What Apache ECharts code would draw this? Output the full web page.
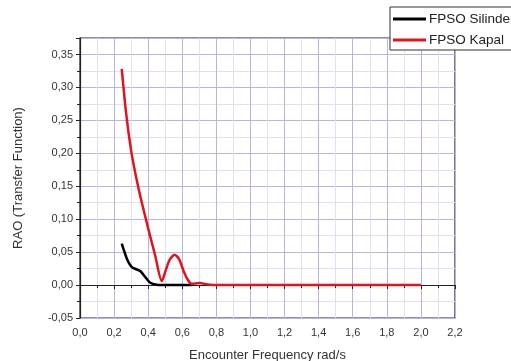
<!DOCTYPE html>
<html>
<head>
<meta charset="utf-8">
<script src="https://cdn.jsdelivr.net/npm/echarts@6/dist/echarts.min.js"></script>
<style>
  html, body { margin: 0; padding: 0; background: #fff; }
  #chart { width: 511px; height: 361px; }
</style>
</head>
<body>
<div id="chart"></div>
<script>
// frequency (rad/s), RAO value
const silinder = [
  [0.245, 0.063], [0.26, 0.051], [0.275, 0.040], [0.29, 0.032], [0.305, 0.027],
  [0.33, 0.024], [0.355, 0.021], [0.38, 0.013], [0.41, 0.004], [0.45, 0.0005],
  [0.5, 0], [0.55, 0], [0.6, 0], [0.655, 0]
];
const kapal = [
  [0.245, 0.328], [0.27, 0.262], [0.30, 0.204], [0.33, 0.163], [0.36, 0.128],
  [0.40, 0.086], [0.44, 0.046], [0.48, 0.006], [0.50, 0.02], [0.525, 0.038],
  [0.555, 0.046], [0.58, 0.04], [0.61, 0.02], [0.635, 0.007], [0.655, 0.002],
  [0.70, 0.003], [0.75, 0.001], [0.8, 0], [1.0, 0], [1.2, 0], [1.4, 0],
  [1.6, 0], [1.8, 0], [2.0, 0]
];
const seriesNames = ['FPSO Silinder', 'FPSO Kapal'];

const comma = (v, d) => v.toFixed(d).replace('.', ',');

const chart = echarts.init(document.getElementById('chart'));
chart.setOption({
  animation: false,
  textStyle: { fontFamily: 'Liberation Sans, Arial, sans-serif' },
  legend: {
    data: seriesNames,
    orient: 'vertical',
    left: 390,
    top: 7,
    icon: 'rect',
    itemWidth: 33,
    itemHeight: 3,
    itemGap: 7,
    padding: [5, 40, 3, 3],
    backgroundColor: '#fff',
    borderColor: '#333',
    borderWidth: 1,
    borderRadius: 0,
    textStyle: { fontSize: 13.5, color: '#222', padding: [0, 0, 0, -2] }
  },
  grid: {
    left: 80, right: 56, top: 38, bottom: 43,
    outerBoundsMode: 'none',
    containLabel: false,
    show: true, borderColor: '#222', borderWidth: 1.2
  },
  xAxis: {
    type: 'value',
    min: 0, max: 2.2, interval: 0.2,
    name: 'Encounter Frequency rad/s',
    nameLocation: 'middle',
    nameGap: 31,
    nameTextStyle: { fontSize: 13, color: '#333' },
    axisLine: { lineStyle: { color: '#222', width: 1.2 } },
    axisTick: { show: true, length: 4, lineStyle: { color: '#222' } },
    minorTick: { show: true, splitNumber: 2, length: 3, lineStyle: { color: '#222' } },
    axisLabel: { fontSize: 11, color: '#333', margin: 9, formatter: v => comma(v, 1) },
    splitLine: { show: true, lineStyle: { color: '#b4b4e6', width: 1 } },
    minorSplitLine: { show: true, lineStyle: { color: '#e0e0f4', width: 1 } }
  },
  yAxis: {
    type: 'value',
    min: -0.05, max: 0.375, interval: 0.05,
    name: 'RAO (Transfer Function)',
    nameLocation: 'middle',
    nameGap: 55,
    nameTextStyle: { fontSize: 13, color: '#333' },
    axisLine: { show: true, lineStyle: { color: '#222', width: 1.2 } },
    axisTick: { show: true, length: 4, lineStyle: { color: '#222' } },
    minorTick: { show: true, splitNumber: 2, length: 3, lineStyle: { color: '#222' } },
    axisLabel: { fontSize: 11, color: '#333', margin: 7, showMaxLabel: false, formatter: v => comma(v, 2) },
    splitLine: { show: true, lineStyle: { color: '#b4b4e6', width: 1 } },
    minorSplitLine: { show: true, lineStyle: { color: '#e0e0f4', width: 1 } }
  },
  series: [
    {
      name: seriesNames[0],
      type: 'line',
      smooth: 0.25,
      showSymbol: false,
      color: '#000',
      lineStyle: { width: 2.5, color: '#000' },
      data: silinder
    },
    {
      name: seriesNames[1],
      type: 'line',
      smooth: 0.25,
      showSymbol: false,
      color: '#e0141c',
      lineStyle: { width: 2.5, color: '#e0141c' },
      data: kapal
    }
  ]
});
</script>
</body>
</html>
